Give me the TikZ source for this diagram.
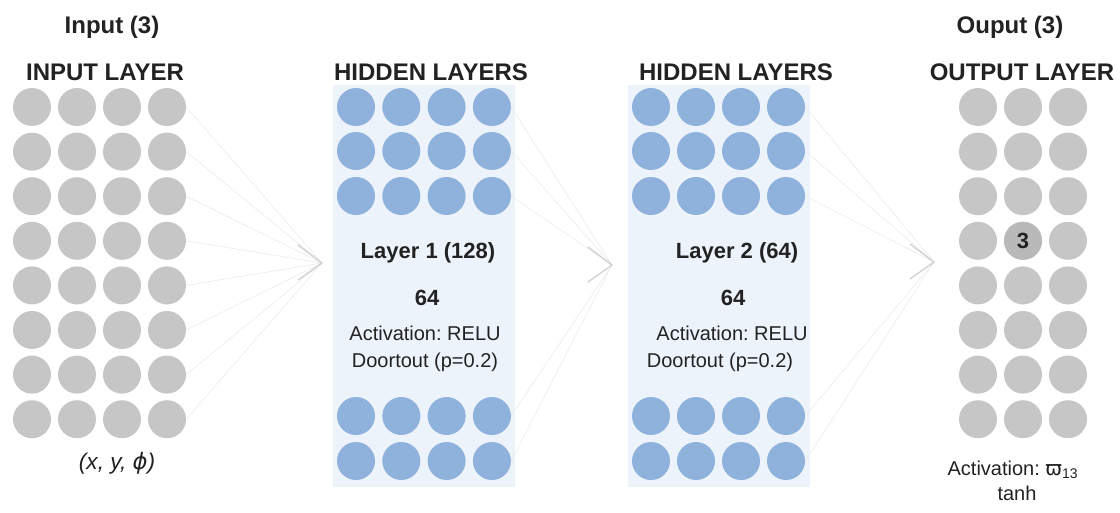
\documentclass[tikz,border=0pt]{standalone}
\usepackage{fontspec}
\setmainfont{Liberation Sans}
\newfontfamily\symfont{DejaVu Sans}
\usetikzlibrary{positioning,calc}
\frenchspacing
\definecolor{greyN}{HTML}{C6C6C6}
\definecolor{greyD}{HTML}{B9B9B9}
\definecolor{blueN}{HTML}{8EB2DC}
\definecolor{panelbg}{HTML}{EDF3FB}
\definecolor{fanline}{HTML}{ECECEC}
\definecolor{arrowgrey}{HTML}{D2D2D2}
\definecolor{txt}{HTML}{222222}
\tikzset{
	neuron/.style = {circle, fill=greyN, minimum size=28.5pt, inner sep=0pt},
	hneuron/.style = {neuron, fill=blueN},
	panel/.style = {fill=panelbg, draw=none},
	title/.style = {font=\fontsize{18}{20}\selectfont\bfseries, text=txt, inner sep=0pt},
	head/.style = {font=\fontsize{16.5}{18}\selectfont\bfseries, text=txt, inner sep=0pt},
	info/.style = {font=\fontsize{15}{17}\selectfont, text=txt, inner sep=0pt},
	fan/.style = {draw=fanline, line width=0.5pt},
	chevron/.style = {draw=arrowgrey, line width=1pt, line cap=round}
}

\begin{document}
\begin{tikzpicture}[x=0.75pt, y=-0.75pt]
	\useasboundingbox (0,0) rectangle (1120,512);
	% ========================== Panels ============================
	\fill[panel] (333,85) rectangle (515,487);
	\fill[panel] (628,85) rectangle (810,487);

	% ========================== Nodes ============================
	% Input layer
	\node[title] (intitle) at (112,27) {Input (3)};
	\node[title] (inlayer) at (105,72) {INPUT LAYER};
	\foreach \c in {1,...,4}
		\foreach \r in {1,...,8}
			\node[neuron] (in-\r-\c) at ({32+45*(\c-1)},{107+44.6*(\r-1)}) {};
	\node[info, font=\fontsize{17}{19}\selectfont\itshape] (invars) at (117,463) {(x, y, {\symfont ϕ})};

	% Hidden layer 1
	\node[title] (h1title) at (431,72) {HIDDEN LAYERS};
	\foreach \c in {1,...,4}
		\foreach \y [count=\r] in {107,151,196,416,461}
			\node[hneuron] (h1-\r-\c) at ({356+45.3*(\c-1)},\y) {};
	\node[head] (h1name) at (428,253) {Layer 1 (128)};
	\node[head] (h1size) at (427,298) {64};
	\node[info] (h1act) at (425,333) {Activation: RELU};
	\node[info] (h1drop) at (425,362) {Doortout (p=0.2)};

	% Hidden layer 2
	\node[title] (h2title) at (736,72) {HIDDEN LAYERS};
	\foreach \c in {1,...,4}
		\foreach \y [count=\r] in {107,151,196,416,461}
			\node[hneuron] (h2-\r-\c) at ({651+45*(\c-1)},\y) {};
	\node[head] (h2name) at (737,253) {Layer 2 (64)};
	\node[head] (h2size) at (733,298) {64};
	\node[info] (h2act) at (732,333) {Activation: RELU};
	\node[info] (h2drop) at (720,362) {Doortout (p=0.2)};

	% Output layer
	\node[title] (outtitle) at (1010,27) {Ouput (3)};
	\node[title] (outlayer) at (1022,72) {OUTPUT LAYER};
	\foreach \c in {1,...,3}
		\foreach \r in {1,...,8}
			\node[neuron] (out-\r-\c) at ({978+45*(\c-1)},{107+44.6*(\r-1)}) {};
	\node[neuron, fill=greyD, head] (outthree) at (out-4-2) {3};
	\node[info] (outact) at (1013,470) {Activation: {\symfont ϖ}\textsubscript{13}};
	\node[info] (outfn) at (1017,493) {tanh};

	% ========================== Lines ============================
	\coordinate (tip1) at (322,263);
	\coordinate (tip2) at (612,265);
	\coordinate (tip3) at (934,262);

	\foreach \r in {1,...,8}
		\draw[fan] (in-\r-4.east) -- (tip1);
	\foreach \r in {1,...,5}
		\draw[fan] (h1-\r-4.east) -- (tip2);
	\foreach \r in {1,...,5}
		\draw[fan] (h2-\r-4.east) -- (tip3);

	% open arrow heads
	\foreach \t in {tip1,tip2,tip3}
		\draw[chevron] ($(\t)+(-24,-18)$) -- (\t) -- ($(\t)+(-24,17)$);
\end{tikzpicture}
\end{document}
